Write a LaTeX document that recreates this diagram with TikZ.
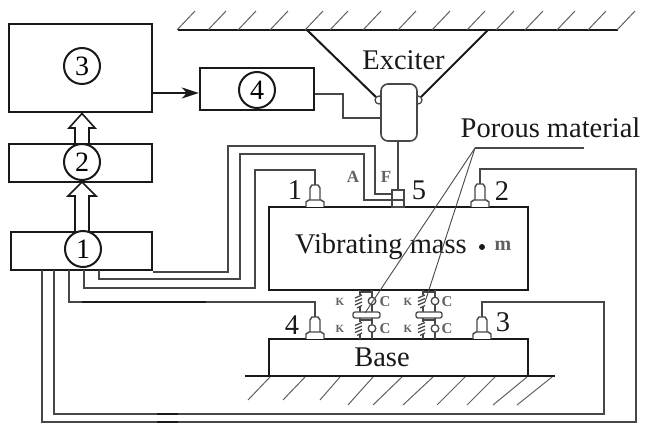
\documentclass[tikz,border=0pt]{standalone}
\usepackage{fontspec}
\setmainfont{Liberation Serif}
\usetikzlibrary{arrows.meta}
\newcommand{\fs}[1]{\fontsize{#1}{#1}\selectfont}
\definecolor{ink}{gray}{0.10}
\definecolor{wire}{gray}{0.28}
\definecolor{faint}{gray}{0.38}
\tikzset{
  heavy/.style={line width=2.4pt,draw=ink},
  wireline/.style={line width=1.6pt,draw=wire,line join=miter},
  hatch/.style={line width=1pt,draw=faint},
  blockbox/.style={heavy,rectangle,inner sep=0pt,fill=white},
  numcircle/.style={circle,line width=2pt,draw=ink,fill=white,minimum size=36pt,inner sep=0pt,font=\fs{28}},
  bigtext/.style={inner sep=0pt,text=ink,font=\fs{28.5}},
  tinytext/.style={inner sep=0pt,text=faint},
  hollow/.style={line width=1.6pt,draw=ink,fill=white,line join=miter},
  part/.style={line width=1.4pt,draw=wire,fill=white},
  thinpart/.style={line width=1.3pt,draw=wire},
  leader/.style={line width=0.9pt,draw=wire}
}
\newcommand{\sensor}[5]{% name, x, ytop of stem attach, y body top, y surface
  \coordinate (#1) at (#2,#3);
  \draw[part] ({#2-5},#5-7) -- ({#2-5},#4+3) -- ({#2-3},#4) -- ({#2+3},#4) -- ({#2+5},#4+3) -- ({#2+5},#5-7);
  \draw[part] ({#2-9},#5) -- ({#2-9},#5-5) -- ({#2-6},#5-7) -- ({#2+6},#5-7) -- ({#2+9},#5-5) -- ({#2+9},#5);
}
\newcommand{\kc}[4]{% spring x, damper x, y top, y bottom
  \pgfmathsetmacro{\ym}{(#3+#4)/2}
  \draw[thinpart] (#1,#3) -- (#1,\ym-6);
  \draw[thinpart] (#1,\ym+6) -- (#1,#4);
  \draw[thinpart] (#1+2,\ym-6) -- (#1-5,\ym-3) (#1+2,\ym-2.5) -- (#1-5,\ym+0.5) (#1+2,\ym+1) -- (#1-5,\ym+4) (#1+2,\ym+4.5) -- (#1-3,\ym+7);
  \draw[thinpart] (#2,#3) -- (#2,\ym-4) (#2,\ym+4) -- (#2,#4);
  \draw[thinpart] (#2,\ym) circle[radius=3.8];
  \draw[thinpart] (#1,#3+2) -- (#2,#3+2);
}
\begin{document}
\begin{tikzpicture}[x=1pt,y=-1pt]
\useasboundingbox (0,0) rectangle (645,427);
\fill[white] (0,0) rectangle (645,427);

% ceiling
\coordinate (ceilL) at (178,30);
\coordinate (ceilR) at (618,30);
\coordinate (triL) at (307,30);
\coordinate (triR) at (488,30);
\draw[heavy] (ceilL) -- (ceilR);
\foreach \x in {177,208,238,270,305,330,363,398,432,467,496,525,557,588,617}
  \draw[hatch] (\x,30) -- (\x+18,11);

% ground
\coordinate (gndL) at (245,376);
\coordinate (gndR) at (555,376);
\foreach \x/\dx in {270/22,305/22,340/20,373/25,402/29,433/30,465/28,495/28,527/34,552/35}
  \draw[hatch] (\x,377) -- (\x-\dx,\ifnum\dx<23 400\else 405\fi);

% main blocks
\node[blockbox,minimum width=143pt,minimum height=88pt] (box3) at (80.5,68) {};
\node[blockbox,minimum width=114pt,minimum height=42pt] (box4) at (257,89) {};
\node[blockbox,minimum width=143pt,minimum height=38pt] (box2) at (80.5,163) {};
\node[blockbox,minimum width=141pt,minimum height=38pt] (box1) at (81.5,251) {};
\node[blockbox,minimum width=259pt,minimum height=83pt] (mass) at (398.5,248.5) {};
\node[blockbox,minimum width=259pt,minimum height=37pt] (base) at (398.5,357.5) {};
\draw[heavy] (gndL) -- (gndR);

% hollow arrows
\draw[hollow] (82,113.5) -- (95,128) -- (89,128) -- (89,144) -- (75,144) -- (75,128) -- (69,128) -- cycle;
\draw[hollow] (82,182) -- (96,196) -- (89,196) -- (89,232) -- (75,232) -- (75,196) -- (68,196) -- cycle;

% numbered circles
\node[numcircle] (c3) at (82,66) {3};
\node[numcircle] (c4) at (257,90) {4};
\node[numcircle] (c2) at (82,162) {2};
\node[numcircle] (c1) at (83,249) {1};

% arrow 3 -> 4
\coordinate (a34) at (box3.east |- 0,93);
\coordinate (b34) at (box4.west |- 0,93);
\draw[line width=2pt,draw=ink,-{Stealth[length=17pt,width=11pt,inset=5pt]}] (a34) -- (b34);

% exciter
\coordinate (kL) at (379,100);
\coordinate (kR) at (418,100);
\draw[line width=2pt,draw=ink] (triL) -- (kL);
\draw[line width=2pt,draw=ink] (triR) -- (kR);
\node[circle,line width=1.3pt,draw=wire,fill=white,minimum size=8pt,inner sep=0pt] (knobL) at (kL) {};
\node[circle,line width=1.3pt,draw=wire,fill=white,minimum size=8pt,inner sep=0pt] (knobR) at (kR) {};
\node[rectangle,rounded corners=7pt,line width=1.6pt,draw=wire,fill=white,minimum width=36pt,minimum height=57pt,inner sep=0pt] (exc) at (399,112.5) {};
\node[bigtext] (exciter) at (403.5,60) {Exciter};
\coordinate (o4) at (box4.east |- 0,94);
\draw[wireline] (o4) -- (343,94) -- (343,118) -- (exc.west |- 0,118);

% sensors
\sensor{s1}{315}{185}{185}{207}
\sensor{s2}{480}{184}{184}{207}
\sensor{s3}{482}{317}{317}{339}
\sensor{s4}{315}{317}{317}{339}
\node[part,rectangle,minimum width=12pt,minimum height=17pt,inner sep=0pt] (s5) at (398,198.5) {};

% exciter to sensor 5
\draw[wireline] (exc.south -| s5.north) -- (s5.north);

% wiring
\coordinate (w1) at (box1.east |- 0,272);
\draw[wireline] (w1) -- (228,272) -- (228,146) -- (375,146) -- (375,194) -- (s5.west |- 0,194);
\coordinate (w2) at (99,270);
\draw[wireline] (w2) -- (99,279) -- (240,279) -- (240,154) -- (364,154) -- (364,200) -- (s5.west |- 0,200) -- (s5.east |- 0,200);
\coordinate (w3) at (84,270);
\draw[wireline] (w3) -- (84,288) -- (255,288) -- (255,170) -- (315,170) -- (s1);
\coordinate (w4) at (69,270);
\draw[wireline] (w4) -- (69,302) -- (315,302) -- (s4);
\draw[line width=2pt,draw=ink] (82,302) -- (206,302);
\draw[line width=2.6pt,draw=ink] (157,302) -- (206,302);
\coordinate (w5) at (54,270);
\draw[wireline] (w5) -- (54,414) -- (604,414) -- (604,302) -- (482,302) -- (s3);
\coordinate (w6) at (42,270);
\draw[wireline] (w6) -- (42,422) -- (636,422) -- (636,169) -- (480,169) -- (s2);
\draw[line width=2.4pt,draw=ink] (157,414) -- (178,414) (157,422) -- (178,422);

% isolators
\kc{360}{372}{290}{312}
\kc{360}{372}{318}{339}
\kc{423}{435}{290}{312}
\kc{423}{435}{318}{339}
\node[rectangle,rounded corners=2pt,line width=1.3pt,draw=wire,fill=white,minimum width=27pt,minimum height=6pt,inner sep=0pt] (p1) at (366.5,315) {};
\node[rectangle,rounded corners=2pt,line width=1.3pt,draw=wire,fill=white,minimum width=26pt,minimum height=6pt,inner sep=0pt] (p2) at (429,315) {};
\foreach \x/\t/\s in {340/K/11,385/C/15,408/K/11,447/C/15}{
  \node[tinytext,font=\fs{\s}\bfseries] at (\x,302) {\t};
  \node[tinytext,font=\fs{\s}\bfseries] at (\x,329) {\t};
}

% texts
\node[bigtext] (vm) at (381,247) {Vibrating mass};
\node[circle,fill=ink,minimum size=6pt,inner sep=0pt] (dot) at (482,247) {};
\node[tinytext,font=\fs{20}\bfseries] (mlabel) at (503,246) {m};
\node[bigtext] (baselabel) at (382,357) {Base};
\node[bigtext] (porous) at (550.5,128) {Porous material};
\node[tinytext,font=\fs{17}\bfseries] (alabel) at (353,177) {A};
\node[tinytext,font=\fs{17}\bfseries] (flabel) at (386,177) {F};
\node[bigtext] (n1) at (295,190) {1};
\node[bigtext] (n2) at (502,191) {2};
\node[bigtext] (n3) at (503,322) {3};
\node[bigtext] (n4) at (292,325) {4};
\node[bigtext] (n5) at (419,190) {5};

% leaders
\coordinate (ld0) at (584,148);
\coordinate (ld1) at (475,148);
\coordinate (ld2) at (365,313);
\coordinate (ld3) at (425,302);
\draw[line width=1.4pt,draw=wire] (ld0) -- (ld1);
\draw[leader] (ld1) -- (ld2);
\draw[leader] (ld1) -- (ld3);
\end{tikzpicture}
\end{document}
